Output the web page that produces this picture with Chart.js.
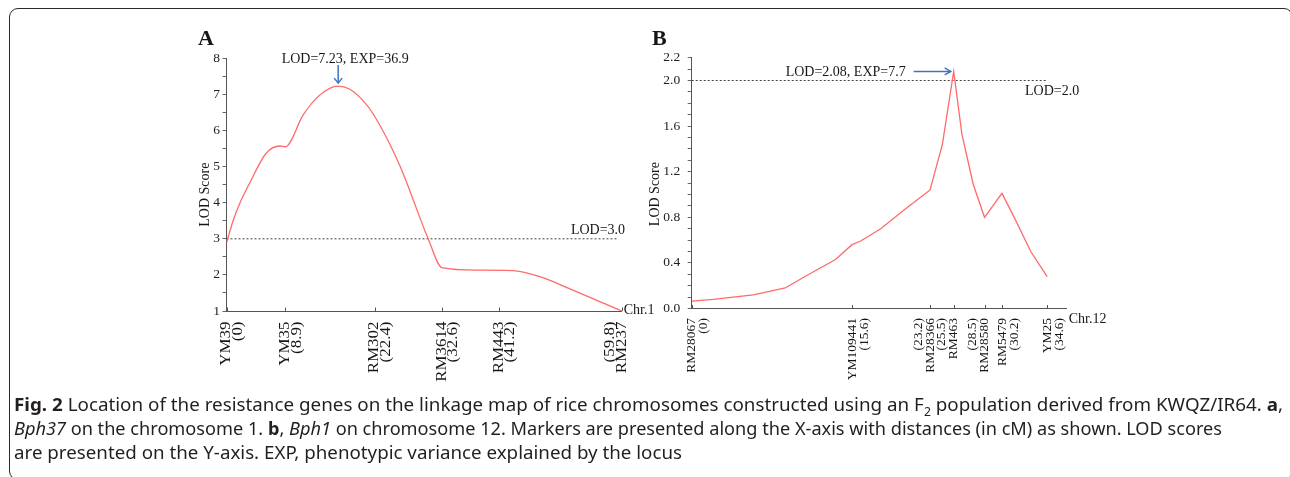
<!DOCTYPE html>
<html><head><meta charset="utf-8">
<script src="https://cdn.jsdelivr.net/npm/chart.js@4.4.1/dist/chart.umd.min.js"></script>
<style>
html,body{margin:0;padding:0;background:#fff;width:1290px;height:477px;overflow:hidden;}
#frame{position:absolute;left:9px;top:8px;width:1284px;height:472px;border:1.5px solid #2a2a2a;border-radius:9px;box-sizing:border-box;}
canvas{position:absolute;left:0;top:0;}
.cap{position:absolute;left:14px;font-family:"Noto Sans";font-size:18.5px;color:#231f20;white-space:nowrap;transform-origin:0 50%;line-height:24px;}
.cap sub{font-size:12px;line-height:0;}
</style></head><body>
<div id="frame"></div>
<canvas id="cA" width="1290" height="477"></canvas>
<canvas id="cB" width="1290" height="477"></canvas>
<div class="cap" id="l1" data-w="1269" style="top:392px"><b>Fig. 2</b> Location of the resistance genes on the linkage map of rice chromosomes constructed using an F<sub>2</sub> population derived from KWQZ/IR64. <b>a</b>,</div>
<div class="cap" id="l2" data-w="1208" style="top:416px"><i>Bph37</i> on the chromosome 1. <b>b</b>, <i>Bph1</i> on chromosome 12. Markers are presented along the X-axis with distances (in cM) as shown. LOD scores</div>
<div class="cap" id="l3" data-w="668" style="top:440px">are presented on the Y-axis. EXP, phenotypic variance explained by the locus</div>
<script>
// ---------- Panel A (chromosome 1) ----------
const cmA  = [0, 1.0, 2.0, 3.5, 6.0, 8.1, 8.9, 11.6, 14.1, 16.9, 18.6, 20.6, 22.3, 26.2, 30.5, 32.6, 37.8, 43.3, 47.4, 52.4, 57.9, 59.8];
const lodA = [2.89, 3.5, 3.98, 4.54, 5.37, 5.57, 5.55, 6.43, 6.98, 7.23, 7.15, 6.84, 6.43, 5.04, 3.01, 2.2, 2.13, 2.12, 1.95, 1.58, 1.15, 1.0];
const markerCmA = [0, 8.9, 22.4, 32.6, 41.2, 59.8];
const markerLabelsA = [["YM39","(0)"],["YM35","(8.9)"],["RM302","(22.4)"],["RM3614","(32.6)"],["RM443","(41.2)"],["(59.8)","RM237"]];
const yTickLabelsA = ["1","2","3","4","5","6","7","8"];
const thresholdA = 3.0;
const peakA = {cm: 16.9, lod: 7.23, exp: 36.9};

// ---------- Panel B (chromosome 12) ----------
const cmB  = [0, 2.1, 6.0, 9.1, 11.2, 14.0, 15.6, 16.4, 18.4, 20.6, 23.2, 24.4, 25.5, 26.3, 27.4, 28.5, 30.2, 31.5, 33.0, 34.6];
const lodB = [0.065, 0.08, 0.12, 0.18, 0.29, 0.43, 0.56, 0.59, 0.70, 0.86, 1.04, 1.44, 2.08, 1.53, 1.09, 0.80, 1.01, 0.78, 0.50, 0.28];
const markerCmB = [0, 15.6, 23.2, 25.5, 28.5, 30.2, 34.6];
const markerLabelsB = [["RM28067","(0)"],["YM109441","(15.6)"],["(23.2)","RM28366"],["(25.5)","RM463"],["(28.5)","RM28580"],["RM5479","(30.2)"],["YM25","(34.6)"]];
const yTickLabelsB = ["0.0","0.4","0.8","1.2","1.6","2.0","2.2"];
const thresholdB = 2.0;
const peakB = {cm: 25.5, lod: 2.08, exp: 7.7};

const SERIF = '"Liberation Serif", "Times New Roman", serif';

function makeDeco(d) {
  return {
    id: 'deco' + d.letter,
    afterDraw(chart) {
      const {ctx, chartArea: ca, scales: {x, y}} = chart;
      ctx.save();
      // inner tick marks on x axis at markers
      ctx.strokeStyle = '#555'; ctx.lineWidth = 1;
      d.ticks.forEach(v => {
        const px = Math.round(x.getPixelForValue(v)) + 0.5;
        ctx.beginPath(); ctx.moveTo(px, ca.bottom); ctx.lineTo(px, ca.bottom - 3.5); ctx.stroke();
      });
      // marker labels (rotated, two lines)
      ctx.fillStyle = '#161616';
      ctx.font = d.labelFont;
      ctx.textAlign = 'right'; ctx.textBaseline = 'middle';
      d.labels.forEach((lines, i) => {
        const px = x.getPixelForValue(d.ticks[i]);
        const ni = lines.findIndex(s => s[0] !== '(');
        lines.forEach((s, k) => {
          ctx.save();
          ctx.translate(px + (k - ni) * d.lineH, ca.bottom + d.labelGap);
          ctx.rotate(-Math.PI / 2);
          ctx.scale(d.stretch, 1);
          ctx.fillText(s, 0, 0);
          ctx.restore();
        });
      });
      // y axis title
      ctx.font = '14px ' + SERIF; ctx.textAlign = 'center'; ctx.textBaseline = 'middle';
      ctx.save();
      ctx.translate(d.titleX, (ca.top + ca.bottom) / 2 + d.titleDy);
      ctx.rotate(-Math.PI / 2);
      ctx.fillText('LOD Score', 0, 0);
      ctx.restore();
      // panel letter
      ctx.font = 'bold 22px ' + SERIF; ctx.textAlign = 'left'; ctx.textBaseline = 'alphabetic';
      ctx.fillText(d.letter, d.letterX, d.letterY);
      // chromosome label
      ctx.font = '14px ' + SERIF; ctx.textBaseline = 'middle';
      ctx.fillText(d.chr, ca.right + 2, ca.bottom + d.chrDy);
      // threshold label
      const ty = y.getPixelForValue(d.thr);
      ctx.textAlign = d.thrAlign;
      ctx.fillText('LOD=' + d.thr.toFixed(1), d.thrX, ty + d.thrDy);
      // peak annotation
      const px = x.getPixelForValue(d.peak.cm), py = y.getPixelForValue(d.peak.lod);
      const txt = 'LOD=' + d.peak.lod + ', EXP=' + d.peak.exp;
      ctx.strokeStyle = '#3d76bd'; ctx.lineWidth = 1.5;
      if (d.arrow === 'down') {
        const tipY = py - 3, tailY = tipY - 18;
        ctx.beginPath(); ctx.moveTo(px, tailY); ctx.lineTo(px, tipY); ctx.stroke();
        ctx.beginPath(); ctx.moveTo(px - 4, tipY - 5); ctx.lineTo(px, tipY); ctx.lineTo(px + 4, tipY - 5); ctx.stroke();
        ctx.textAlign = 'center'; ctx.fillStyle = '#161616';
        ctx.fillText(txt, px + 7, tailY - 6);
      } else {
        const tipX = px - 3, tailX = tipX - 37;
        ctx.beginPath(); ctx.moveTo(tailX, py); ctx.lineTo(tipX, py); ctx.stroke();
        ctx.beginPath(); ctx.moveTo(tipX - 6, py - 3.5); ctx.lineTo(tipX, py); ctx.lineTo(tipX - 6, py + 3.5); ctx.stroke();
        ctx.textAlign = 'right'; ctx.fillStyle = '#161616';
        ctx.fillText(txt, tailX - 8, py + 0.5);
      }
      ctx.restore();
    }
  };
}

function makeChart(id, c) {
  return new Chart(document.getElementById(id), {
    type: 'scatter',
    data: { datasets: [
      { data: c.cm.map((v, i) => ({x: v, y: c.lod[i]})), showLine: true, borderColor: '#ff6a6a', borderWidth: 1.3,
        pointRadius: 0, cubicInterpolationMode: c.smooth ? 'monotone' : 'default', tension: 0 },
      { data: [{x: 0, y: c.thr}, {x: c.thrTo, y: c.thr}], showLine: true, borderColor: '#444', borderWidth: 1,
        borderDash: [2, 2], pointRadius: 0 }
    ]},
    options: {
      responsive: false, animation: false, devicePixelRatio: 1,
      layout: { padding: c.pad },
      plugins: { legend: {display: false}, tooltip: {enabled: false} },
      scales: {
        x: { type: 'linear', min: c.xMin, max: c.xMax, grid: {display: false}, ticks: {display: false},
             border: {display: true, color: '#555', width: 1}, afterFit: s => { s.height = 10; } },
        y: { type: 'linear', min: c.yMin, max: c.yMax,
             grid: {display: true, drawOnChartArea: false, drawTicks: true, tickLength: 4, color: '#666'},
             border: {display: true, color: '#555', width: 1},
             ticks: { stepSize: c.yStep, autoSkip: false, padding: c.yPad, color: '#222',
                      font: {family: 'Liberation Serif', size: 13.5},
                      callback: v => { const s = c.yFmt(v); return c.yLabels.includes(s) ? s : ''; } },
             afterFit: s => { s.width = 40; } }
      }
    },
    plugins: [makeDeco(c.deco)]
  });
}

makeChart('cA', {
  cm: cmA, lod: lodA, smooth: true, thr: thresholdA, thrTo: 59.2,
  xMin: 0, xMax: 59.8, yMin: 1, yMax: 8, yStep: 0.5, yPad: 2.5,
  yFmt: v => String(v), yLabels: yTickLabelsA,
  pad: {left: 186.5, right: 668.3, top: 58.3, bottom: 156},
  deco: { letter: 'A', letterX: 198, letterY: 45, ticks: markerCmA, labels: markerLabelsA,
          labelFont: '15px ' + SERIF, stretch: 1.13, lineH: 11.5, labelGap: 10.5,
          titleX: 205, titleDy: 10, chr: 'Chr.1', chrDy: -1,
          thr: thresholdA, thrAlign: 'center', thrX: 598, thrDy: -8,
          peak: peakA, arrow: 'down' }
});

makeChart('cB', {
  cm: cmB, lod: lodB, smooth: false, thr: thresholdB, thrTo: 34.6,
  xMin: 0, xMax: 36.5, yMin: 0, yMax: 2.2, yStep: 0.1, yPad: 7.5,
  yFmt: v => v.toFixed(1), yLabels: yTickLabelsB,
  pad: {left: 651.7, right: 223.3, top: 57.7, bottom: 158.5},
  deco: { letter: 'B', letterX: 652, letterY: 45, ticks: markerCmB, labels: markerLabelsB,
          labelFont: '13.5px ' + SERIF, stretch: 1.0, lineH: 12, labelGap: 9.5,
          titleX: 655, titleDy: 11, chr: 'Chr.12', chrDy: 11,
          thr: thresholdB, thrAlign: 'left', thrX: 1025, thrDy: 11,
          peak: peakB, arrow: 'right' }
});

document.querySelectorAll('.cap').forEach(el => {
  const w = el.getBoundingClientRect().width;
  const target = +el.dataset.w;
  el.style.transform = 'scaleX(' + (target / w) + ')';
});
</script>
</body></html>
